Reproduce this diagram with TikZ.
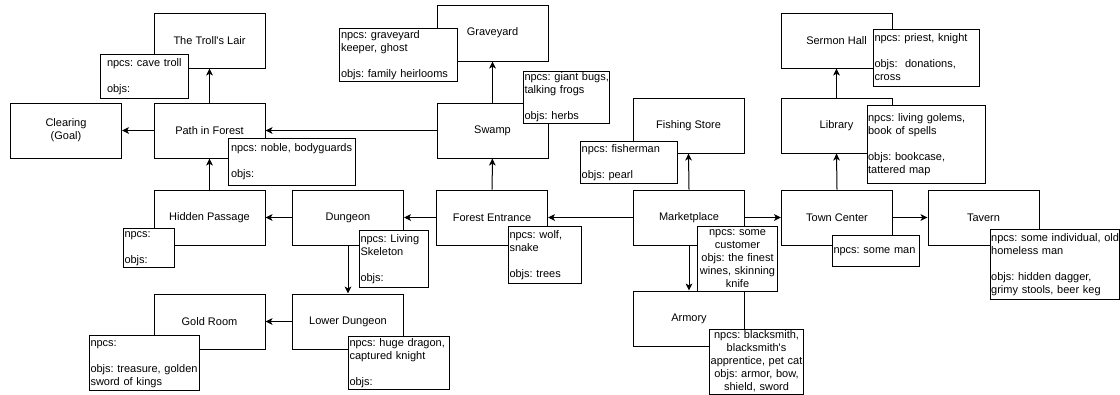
\documentclass[tikz,border=0pt]{standalone}
\usepackage{fontspec}
\setmainfont{Liberation Sans}
\usetikzlibrary{arrows.meta}
\frenchspacing
\newcommand\fsz{\fontsize{8.25}{9.75}\selectfont\frenchspacing}
\newcommand\tl[1]{\begin{tabular}{@{}l@{}}#1\end{tabular}}
\newcommand\tc[1]{\begin{tabular}{@{}c@{}}#1\end{tabular}}
\tikzset{
  room/.style={draw=black, line width=0.75pt, fill=white, minimum width=83.25pt,
    minimum height=41.25pt, inner sep=0pt, font=\fsz},
  info/.style={draw=black, line width=0.75pt, fill=white, anchor=north west,
    inner ysep=0pt, font=\fsz, align=left},
  infoc/.style={info, align=center},
  link/.style={-{Stealth[length=5.25pt,width=5pt,inset=1.4pt]}, line width=0.75pt},
}
\newcommand\info[8][info]{%
  \pgfmathsetlengthmacro\iw{(#5-#3-2*(#7))*0.75pt}%
  \pgfmathsetlengthmacro\ih{(#6-#4)*0.75pt}%
  \pgfmathsetlengthmacro\ip{(#7)*0.75pt}%
  \node[#1, inner xsep=\ip, text width=\iw, minimum height=\ih] (#2) at (#3,#4) {#8};}
\begin{document}
\begin{tikzpicture}[x=0.75pt, y=-0.75pt]
\useasboundingbox (0,0) rectangle (1120,394);
\fill[white] (0,0) rectangle (1120,394);
% rooms
\node[room] (troll) at (209.5,40.5) {The Troll\textquotesingle s Lair};
\node[room] (clearing) at (66,130.5) {\tc{Clearing\\(Goal)}};
\node[room] (path) at (209.5,130.5) {Path in Forest};
\node[room, minimum height=42pt] (grave) at (492.5,33) {Graveyard};
\node[room] (swamp) at (492.5,130.5) {Swamp};
\node[room] (fish) at (688.5,125.5) {Fishing Store};
\node[room] (sermon) at (836.5,40.5) {Sermon Hall};
\node[room] (library) at (836.5,125.5) {Library};
\node[room] (hidden) at (209.5,217.5) {Hidden Passage};
\node[room] (dungeon) at (348,217.5) {Dungeon};
\node[room] (forest) at (492,217.5) {Forest Entrance};
\node[room] (market) at (689,217.5) {Marketplace};
\node[room] (town) at (837,217.5) {Town Center};
\node[room] (tavern) at (983.5,217.5) {Tavern};
\node[room] (gold) at (209.5,321.5) {Gold Room};
\node[room] (lower) at (348,321.5) {Lower Dungeon};
\node[room] (armory) at (689,318.5) {Armory};
% connectors
\draw[link] (forest) -- (swamp);
\draw[link] (swamp) -- (grave);
\draw[link] (swamp) -- (path);
\draw[link] (path) -- (troll);
\draw[link] (path) -- (clearing);
\draw[link] (hidden) -- (path);
\draw[link] (dungeon) -- (hidden);
\draw[link] (forest) -- (dungeon);
\draw[link] (dungeon) -- (lower);
\draw[link] (lower) -- (gold);
\draw[link] (market) -- (forest);
\draw[link] (market.north) -- (fish.south);
\draw[link] (market) -- (armory);
\draw[link] (market) -- (town);
\draw[link] (town.north) -- (library.south);
\draw[link] (library) -- (sermon);
\draw[link] (town) -- (tavern);
% info boxes
\info{trollL}{100}{54}{188}{98}{6.5}{\tl{npcs: cave troll\\ \\ objs:}}
\info{pathL}{228}{138}{355}{185}{2.5}{\tl{npcs: noble, bodyguards\\ \\ objs:}}
\info{graveL}{339}{28}{457}{81}{1.5}{\tl{npcs: graveyard\\ keeper, ghost\\ \\ objs: family heirlooms}}
\info{swampL}{523}{71}{609}{121}{1}{\tl{npcs: giant bugs,\\ talking frogs\\ \\ objs: herbs}}
\info{fishL}{580}{141}{677}{183}{1.2}{\tl{npcs: fisherman\\ \\ objs: pearl}}
\info{sermonL}{873}{29}{979}{86}{1}{\tl{npcs: priest, knight\\ \\ objs:\ \ donations,\\ cross}}
\info{libL}{867}{105}{985}{183}{0.6}{\tl{npcs: living golems,\\ book of spells\\ \\ objs: bookcase,\\ tattered map}}
\info{hiddenL}{123}{228}{174}{267}{1}{\tl{npcs:\\ \\ objs:}}
\info{dungL}{359}{230}{428}{287}{1}{\tl{npcs: Living\\ Skeleton\\ \\ objs:}}
\info{forestL}{508}{226}{581}{283}{1}{\tl{npcs: wolf,\\ snake\\ \\ objs: trees}}
\info[infoc]{marketL}{697}{226}{777}{289}{1}{\tc{npcs: some\\ customer\\ objs: the finest\\ wines, skinning\\ knife}}
\info[infoc]{armoryL}{709}{329}{803}{393}{1}{\tc{npcs: blacksmith,\\ blacksmith\textquotesingle s\\ apprentice, pet cat\\ objs: armor, bow,\\ shield, sword}}
\info{lowerL}{348}{336}{449}{389}{1}{\tl{npcs: huge dragon,\\ captured knight\\ \\ objs:}}
\info{goldL}{89}{335}{199}{390}{1}{\tl{npcs:\\ \\ objs: treasure, golden\\ sword of kings}}
\info{townL}{832}{235}{919}{266}{1}{\tl{npcs: some man}}
\info{tavernL}{990}{229}{1119}{299}{0.7}{\tl{npcs: some individual, old\\ homeless man\\ \\ objs: hidden dagger,\\ grimy stools, beer keg}}
\end{tikzpicture}
\end{document}
